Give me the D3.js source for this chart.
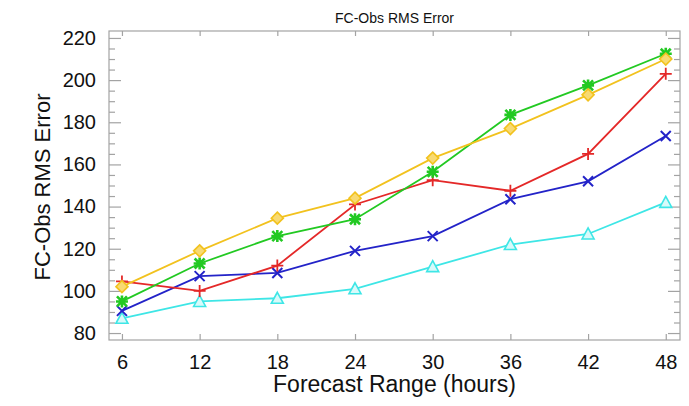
<!DOCTYPE html>
<html>
<head>
<meta charset="utf-8">
<script src="https://cdn.jsdelivr.net/npm/d3@7"></script>
<style>
  html, body { margin: 0; padding: 0; background: #fff; }
  svg { display: block; font-family: "Liberation Sans", Arial, Helvetica, sans-serif; }
</style>
</head>
<body>
<svg id="viz" width="689" height="406"></svg>
<script>
// forecast range (hours)
const hours = [6, 12, 18, 24, 30, 36, 42, 48];

const yellowSeries = [102, 119, 134.5, 144, 163, 177, 193, 210];
const greenSeries  = [95, 113, 126, 134, 156.5, 183.5, 197.5, 212.5];
const redSeries    = [104.5, 100, 112, 141, 152.5, 147.5, 165, 203];
const blueSeries   = [90.5, 107, 108.5, 119, 126, 143.5, 152, 173.5];
const cyanSeries   = [87, 95, 96.5, 101, 111.5, 122, 127, 142];

const yMajorTicks = [80, 100, 120, 140, 160, 180, 200, 220];
const yMinorTicks = d3.range(80, 221, 5).filter(v => v % 20 !== 0);

const box = { left: 109, right: 680, top: 31, bottom: 340 };
const AXIS_COLOR = "#a3a3a3";

const series = [
    { name: "cyan",   values: cyanSeries,   color: "#3ee6e6", marker: "triangle" },
    { name: "blue",   values: blueSeries,   color: "#2323c8", marker: "x" },
    { name: "red",    values: redSeries,    color: "#e42828", marker: "plus" },
    { name: "green",  values: greenSeries,  color: "#22c922", marker: "star" },
    { name: "yellow", values: yellowSeries, color: "#f2c21e", marker: "diamond" }
];

const svg = d3.select("#viz");

const x = d3.scaleLinear().domain([5, 49.1]).range([box.left, box.right]);
const y = d3.scaleLinear().domain([76.7, 223.3]).range([box.bottom, box.top]);

// frame
svg.append("rect")
    .attr("x", box.left).attr("y", box.top)
    .attr("width", box.right - box.left).attr("height", box.bottom - box.top)
    .attr("fill", "none").attr("stroke", AXIS_COLOR).attr("stroke-width", 1.2);

const styleAxis = g => {
    g.select(".domain").remove();
    g.selectAll(".tick line").attr("stroke", AXIS_COLOR).attr("stroke-width", 1.2);
    g.selectAll(".tick text").attr("fill", "#111").style("font-size", "20px");
};

// left axis, ticks pointing inward
svg.append("g")
    .attr("transform", `translate(${box.left},0)`)
    .call(d3.axisLeft(y).tickValues(yMajorTicks).tickSizeInner(-12).tickSizeOuter(0).tickPadding(13).tickFormat(d3.format("d")))
    .call(styleAxis);
svg.append("g")
    .attr("transform", `translate(${box.left},0)`)
    .call(d3.axisLeft(y).tickValues(yMinorTicks).tickSizeInner(-6).tickSizeOuter(0).tickFormat(""))
    .call(styleAxis);

// right axis, no labels
svg.append("g")
    .attr("transform", `translate(${box.right},0)`)
    .call(d3.axisLeft(y).tickValues(yMajorTicks).tickSize(12).tickFormat(""))
    .call(styleAxis);
svg.append("g")
    .attr("transform", `translate(${box.right},0)`)
    .call(d3.axisLeft(y).tickValues(yMinorTicks).tickSize(6).tickFormat(""))
    .call(styleAxis);

// bottom and top axes
svg.append("g")
    .attr("transform", `translate(0,${box.bottom})`)
    .call(d3.axisBottom(x).tickValues(hours).tickSizeInner(-6).tickSizeOuter(0).tickPadding(15))
    .call(styleAxis);
svg.append("g")
    .attr("transform", `translate(0,${box.top})`)
    .call(d3.axisBottom(x).tickValues(hours).tickSize(5).tickFormat(""))
    .call(styleAxis);

// titles
svg.append("text")
    .attr("x", (box.left + box.right) / 2).attr("y", 23)
    .attr("text-anchor", "middle")
    .style("font-size", "14px").attr("fill", "#111")
    .text("FC-Obs RMS Error");

svg.append("text")
    .attr("x", (box.left + box.right) / 2).attr("y", 392)
    .attr("text-anchor", "middle")
    .style("font-size", "23px").attr("fill", "#111")
    .text("Forecast Range (hours)");

svg.append("text")
    .attr("transform", `translate(50,${187}) rotate(-90)`)
    .attr("text-anchor", "middle")
    .style("font-size", "22px").attr("fill", "#111")
    .text("FC-Obs RMS Error");

// markers
const drawMarker = (g, type, color) => {
    const s = 5;
    if (type === "triangle") {
        g.append("path").attr("d", `M0,${-s - 1}L${s + 1},${s}L${-s - 1},${s}Z`)
            .attr("fill", "#d8fafa").attr("stroke", color).attr("stroke-width", 1.6);
    } else if (type === "diamond") {
        g.append("path").attr("d", `M0,${-s - 1}L${s + 1},0L0,${s + 1}L${-s - 1},0Z`)
            .attr("fill", "#f8da72").attr("stroke", color).attr("stroke-width", 1.6);
    } else if (type === "x") {
        g.append("path").attr("d", `M${-s},${-s}L${s},${s}M${-s},${s}L${s},${-s}`)
            .attr("stroke", color).attr("stroke-width", 2);
    } else if (type === "plus") {
        g.append("path").attr("d", `M${-s - 1},0L${s + 1},0M0,${-s - 1}L0,${s + 1}`)
            .attr("stroke", color).attr("stroke-width", 1.8);
    } else if (type === "star") {
        g.append("path").attr("d", `M${-s},${-s}L${s},${s}M${-s},${s}L${s},${-s}M${-s - 1},0L${s + 1},0M0,${-s - 1}L0,${s + 1}`)
            .attr("stroke", color).attr("stroke-width", 2.6);
    }
};

const line = d3.line().x((d, i) => x(hours[i])).y(d => y(d));

series.forEach(sr => {
    svg.append("path")
        .datum(sr.values)
        .attr("d", line)
        .attr("fill", "none")
        .attr("stroke", sr.color)
        .attr("stroke-width", 1.8);

    svg.append("g").selectAll("g")
        .data(sr.values)
        .join("g")
        .attr("transform", (d, i) => `translate(${x(hours[i])},${y(d)})`)
        .each(function () { drawMarker(d3.select(this), sr.marker, sr.color); });
});
</script>
</body>
</html>
